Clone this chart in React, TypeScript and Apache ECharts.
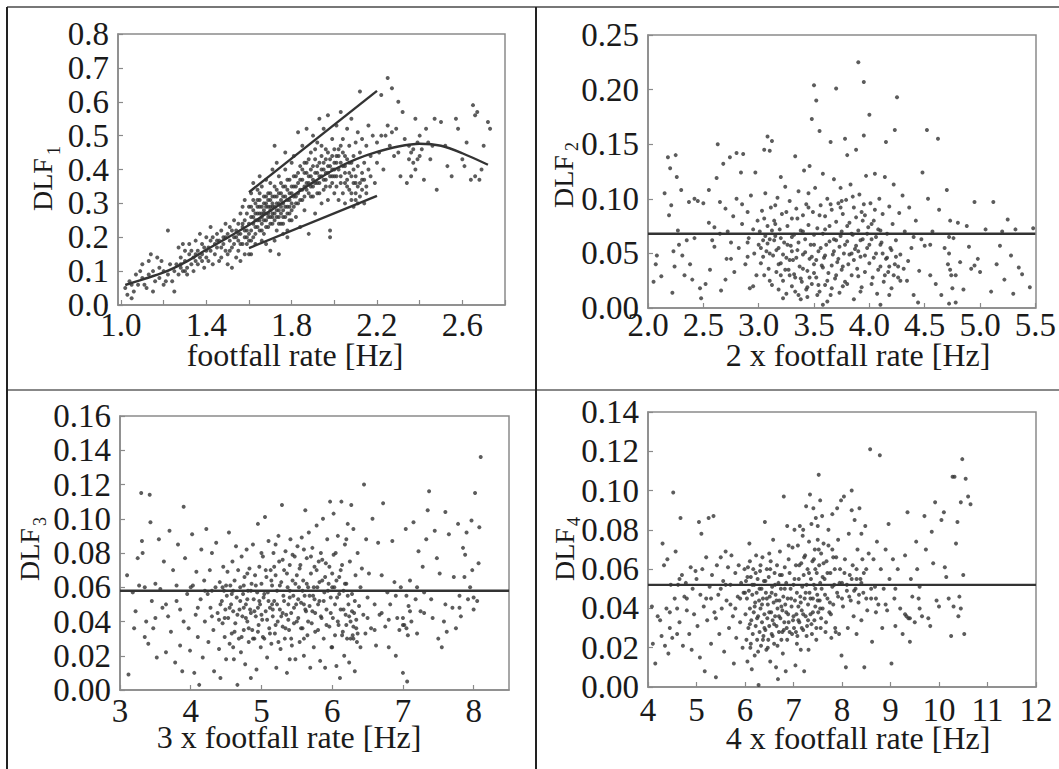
import React, { useEffect, useRef } from "react";
import * as echarts from "echarts";

const SERIF = '"Liberation Serif", "Times New Roman", serif';
const INK = "#1a1a1a";
const DOT = "#333333";

// ---------- Panel 1: DLF1 vs footfall rate ----------
const P1_X_TICKS = [1.0, 1.2, 1.4, 1.6, 1.8, 2.0, 2.2, 2.4, 2.6, 2.8];
const P1_X_LABELS = [1.0, 1.4, 1.8, 2.2, 2.6];
const P1_POINTS: [number, number][] = [
  [1.02,0.05],[1.03,0.03],[1.04,0.07],[1.05,0.02],[1.05,0.06],[1.06,0.04],[1.07,0.09],[1.08,0.06],[1.09,0.10],[1.10,0.08],[1.10,0.12],[1.11,0.06],[1.12,0.05],[1.13,0.09],[1.13,0.13],[1.14,0.15],[1.15,0.10],[1.15,0.04],[1.16,0.07],[1.17,0.14],[1.18,0.11],[1.18,0.08],[1.19,0.13],[1.20,0.10],[1.20,0.06],
  [1.21,0.07],[1.22,0.22],[1.22,0.09],[1.23,0.12],[1.24,0.07],[1.25,0.04],[1.25,0.10],[1.26,0.12],[1.27,0.17],[1.27,0.09],[1.28,0.14],[1.28,0.11],[1.29,0.10],[1.29,0.18],[1.30,0.13],[1.30,0.16],[1.31,0.11],[1.31,0.09],[1.32,0.15],[1.32,0.18],[1.33,0.12],[1.34,0.14],[1.34,0.10],[1.35,0.19],[1.35,0.13],[1.36,0.16],[1.36,0.12],[1.37,0.21],[1.37,0.14],[1.38,0.15],[1.38,0.18],[1.39,0.11],[1.39,0.17],[1.40,0.14],[1.40,0.20],
  [1.41,0.13],[1.41,0.17],[1.42,0.23],[1.42,0.16],[1.43,0.20],[1.43,0.12],[1.44,0.18],[1.44,0.15],[1.45,0.17],[1.45,0.21],[1.46,0.19],[1.46,0.13],[1.47,0.14],[1.47,0.22],[1.48,0.18],[1.48,0.20],[1.49,0.16],[1.49,0.24],[1.50,0.15],[1.50,0.21],[1.50,0.12],[1.51,0.19],[1.51,0.23],[1.52,0.11],[1.52,0.17],[1.53,0.20],[1.53,0.25],[1.54,0.22],[1.54,0.14],[1.55,0.16],[1.55,0.19],[1.55,0.24],[1.56,0.21],[1.56,0.13],[1.57,0.23],[1.57,0.18],[1.58,0.25],[1.58,0.20],[1.58,0.15],[1.59,0.22],[1.59,0.27],[1.60,0.24],[1.60,0.19],[1.60,0.29],[1.60,0.15],
  [1.61,0.26],[1.61,0.22],[1.61,0.33],[1.62,0.28],[1.62,0.24],[1.62,0.20],[1.63,0.27],[1.63,0.30],[1.63,0.23],[1.64,0.25],[1.64,0.29],[1.64,0.34],[1.65,0.27],[1.65,0.22],[1.65,0.31],[1.66,0.26],[1.66,0.29],[1.66,0.24],[1.66,0.35],[1.67,0.28],[1.67,0.21],[1.67,0.32],[1.68,0.27],[1.68,0.30],[1.68,0.25],[1.69,0.29],[1.69,0.23],[1.69,0.33],[1.70,0.26],[1.70,0.31],[1.70,0.28],[1.70,0.36],[1.71,0.30],[1.71,0.24],[1.71,0.27],[1.72,0.29],[1.72,0.32],[1.72,0.47],[1.73,0.26],[1.73,0.30],[1.73,0.22],[1.74,0.28],[1.74,0.33],[1.74,0.38],[1.75,0.27],[1.75,0.31],[1.75,0.24],[1.76,0.30],[1.76,0.35],[1.76,0.28],[1.77,0.26],[1.77,0.32],[1.77,0.40],[1.78,0.29],[1.78,0.34],[1.78,0.22],[1.79,0.31],[1.79,0.27],[1.79,0.37],[1.80,0.30],[1.80,0.33],[1.80,0.25],[1.80,0.42],
  [1.61,0.15],[1.63,0.18],[1.66,0.19],[1.68,0.18],[1.70,0.16],[1.72,0.19],[1.74,0.15],[1.76,0.21],[1.78,0.20],[1.62,0.36],[1.65,0.38],[1.68,0.37],[1.71,0.40],[1.73,0.42],[1.77,0.45],
  [1.81,0.35],[1.81,0.29],[1.81,0.44],[1.82,0.32],[1.82,0.38],[1.82,0.26],[1.83,0.36],[1.83,0.51],[1.83,0.30],[1.84,0.34],[1.84,0.41],[1.84,0.23],[1.85,0.37],[1.85,0.31],[1.85,0.47],[1.86,0.35],[1.86,0.39],[1.86,0.28],[1.87,0.52],[1.87,0.36],[1.87,0.42],[1.88,0.33],[1.88,0.38],[1.88,0.21],[1.89,0.40],[1.89,0.35],[1.89,0.45],[1.90,0.37],[1.90,0.32],[1.90,0.50],[1.91,0.39],[1.91,0.43],[1.91,0.27],[1.92,0.36],[1.92,0.41],[1.92,0.48],[1.93,0.38],[1.93,0.33],[1.93,0.55],[1.94,0.40],[1.94,0.44],[1.94,0.30],[1.95,0.37],[1.95,0.42],[1.95,0.52],[1.96,0.39],[1.96,0.35],[1.96,0.46],[1.97,0.41],[1.97,0.31],[1.97,0.56],[1.98,0.38],[1.98,0.43],[1.98,0.20],[1.98,0.22],[1.99,0.40],[1.99,0.36],[1.99,0.49],[2.00,0.42],[2.00,0.33],[2.00,0.38],
  [2.01,0.44],[2.01,0.35],[2.01,0.53],[2.02,0.40],[2.02,0.31],[2.02,0.46],[2.03,0.38],[2.03,0.42],[2.03,0.57],[2.04,0.33],[2.04,0.45],[2.04,0.49],[2.05,0.36],[2.05,0.41],[2.05,0.30],[2.06,0.43],[2.06,0.37],[2.06,0.52],[2.07,0.39],[2.07,0.34],[2.07,0.47],[2.08,0.31],[2.08,0.42],[2.08,0.55],[2.09,0.36],[2.09,0.44],[2.09,0.29],[2.10,0.38],[2.10,0.48],[2.10,0.33],[2.11,0.41],[2.11,0.30],[2.11,0.51],[2.12,0.36],[2.12,0.45],[2.12,0.63],[2.13,0.39],[2.13,0.34],[2.13,0.49],[2.14,0.42],[2.14,0.37],[2.15,0.47],[2.15,0.35],[2.16,0.40],[2.16,0.53],[2.17,0.38],[2.17,0.44],[2.18,0.50],[2.19,0.36],[2.20,0.48],[2.20,0.42],
  [2.21,0.45],[2.22,0.62],[2.22,0.50],[2.23,0.40],[2.24,0.50],[2.25,0.67],[2.25,0.53],[2.26,0.47],[2.27,0.64],[2.27,0.51],[2.28,0.44],[2.29,0.52],[2.30,0.60],[2.30,0.45],[2.31,0.38],[2.32,0.57],[2.33,0.49],[2.34,0.36],[2.35,0.43],[2.35,0.47],[2.36,0.38],[2.36,0.45],[2.37,0.46],[2.37,0.42],[2.38,0.55],[2.38,0.40],[2.39,0.43],[2.39,0.48],[2.40,0.50],[2.40,0.44],[2.41,0.46],[2.42,0.37],[2.43,0.52],[2.44,0.48],[2.45,0.43],[2.46,0.47],[2.47,0.55],[2.48,0.34],[2.50,0.54],[2.52,0.47],[2.53,0.41],[2.55,0.38],[2.57,0.55],[2.58,0.52],[2.60,0.43],[2.61,0.41],[2.62,0.48],[2.64,0.37],[2.65,0.59],[2.66,0.56],[2.66,0.38],[2.67,0.57],[2.68,0.37],[2.69,0.40],[2.70,0.47],[2.72,0.54],[2.73,0.52],
];
const P1_POINTS_B: [number, number][] = [
  [1.56,0.27],[1.57,0.29],[1.58,0.31],[1.59,0.18],[1.60,0.21],[1.61,0.29],[1.61,0.19],[1.62,0.31],[1.62,0.26],[1.63,0.25],[1.63,0.21],[1.64,0.27],[1.64,0.23],[1.64,0.31],[1.65,0.25],[1.65,0.29],[1.65,0.33],[1.66,0.27],[1.66,0.22],[1.67,0.25],[1.67,0.30],[1.67,0.27],[1.68,0.23],[1.68,0.29],[1.68,0.32],[1.69,0.26],[1.69,0.31],[1.69,0.27],[1.70,0.24],[1.70,0.29],[1.70,0.33],[1.71,0.26],[1.71,0.32],[1.71,0.29],[1.72,0.25],[1.72,0.27],[1.72,0.35],[1.73,0.28],[1.73,0.32],[1.73,0.34],[1.74,0.26],[1.74,0.30],[1.74,0.24],[1.75,0.29],[1.75,0.33],[1.75,0.36],[1.76,0.26],[1.76,0.32],[1.76,0.24],[1.77,0.29],[1.77,0.35],[1.78,0.27],[1.78,0.31],[1.78,0.37],[1.79,0.29],[1.79,0.33],[1.79,0.25],[1.80,0.28],[1.80,0.35],
  [1.81,0.32],[1.81,0.38],[1.82,0.30],[1.82,0.35],[1.83,0.33],[1.83,0.39],[1.84,0.31],[1.84,0.37],[1.85,0.34],[1.85,0.40],[1.86,0.32],[1.86,0.42],[1.87,0.34],[1.87,0.39],[1.88,0.36],[1.88,0.43],[1.89,0.38],[1.89,0.32],[1.90,0.35],[1.90,0.41],[1.91,0.36],[1.91,0.46],[1.92,0.39],[1.92,0.33],[1.93,0.42],[1.93,0.36],[1.94,0.38],[1.94,0.47],[1.95,0.40],[1.95,0.34],[1.96,0.43],[1.96,0.37],[1.97,0.39],[1.97,0.45],[1.98,0.41],[1.98,0.35],[1.99,0.44],[1.99,0.38],[2.00,0.40],[2.00,0.46],
  [2.01,0.42],[2.01,0.38],[2.02,0.44],[2.03,0.36],[2.03,0.47],[2.04,0.41],[2.05,0.39],[2.05,0.44],[2.06,0.35],[2.07,0.42],[2.08,0.38],[2.08,0.33],[2.09,0.40],[2.10,0.36],[2.10,0.31],[2.11,0.35],[2.12,0.32],[2.13,0.37],[2.14,0.30],[2.15,0.33],
  [1.45,0.19],[1.47,0.17],[1.49,0.20],[1.51,0.16],[1.52,0.22],[1.53,0.18],[1.54,0.20],[1.55,0.21],[1.56,0.18],[1.57,0.24],[1.58,0.22],[1.59,0.20],[1.35,0.15],[1.38,0.13],[1.40,0.16],[1.42,0.19],[1.33,0.16],[1.30,0.10],[1.28,0.12],
];
const P1_CURVE: [number, number][] = [
  [1.02,0.059],[1.1,0.075],[1.2,0.096],[1.3,0.126],[1.4,0.163],[1.5,0.199],[1.6,0.236],[1.7,0.278],[1.8,0.320],[1.9,0.362],[2.0,0.400],[2.1,0.430],[2.2,0.452],[2.3,0.468],[2.4,0.476],[2.5,0.470],[2.6,0.448],[2.72,0.414],
];
const P1_UPPER: [number, number][] = [[1.6,0.333],[2.2,0.632]];
const P1_LOWER: [number, number][] = [[1.6,0.168],[2.2,0.322]];

// ---------- Panel 2: DLF2 vs 2 x footfall rate ----------
const P2_MEAN = 0.068;
const P2_POINTS: [number, number][] = [
  [2.05,0.024],[2.07,0.040],[2.08,0.048],[2.12,0.029],[2.15,0.105],[2.18,0.138],[2.19,0.085],[2.2,0.128],[2.21,0.094],[2.22,0.014],[2.23,0.052],[2.24,0.038],[2.25,0.140],[2.26,0.120],[2.27,0.071],[2.28,0.058],[2.3,0.108],[2.31,0.048],[2.33,0.030],[2.35,0.062],[2.37,0.097],[2.38,0.040],[2.4,0.026],[2.42,0.064],[2.45,0.098],[2.47,0.018],[2.48,0.009],[2.5,0.096],[2.42,0.100],
  [2.52,0.022],[2.55,0.108],[2.56,0.035],[2.58,0.062],[2.6,0.074],[2.62,0.119],[2.63,0.150],[2.65,0.097],[2.66,0.016],[2.68,0.132],[2.7,0.091],[2.71,0.045],[2.72,0.070],[2.74,0.138],[2.75,0.060],[2.77,0.084],[2.78,0.033],[2.8,0.142],[2.8,0.100],[2.82,0.055],[2.84,0.124],[2.85,0.077],[2.86,0.141],[2.88,0.040],[2.9,0.088],[2.91,0.064],[2.92,0.018],[2.93,0.103],[2.95,0.072],[2.96,0.050],[2.97,0.124],[2.98,0.030],[2.99,0.080],[2.6,0.056],[2.7,0.026],[2.85,0.095],[2.9,0.047],[2.95,0.020],
  [3.0,0.058],[3.01,0.070],[3.02,0.041],[3.03,0.089],[3.04,0.062],[3.05,0.145],[3.05,0.030],[3.06,0.105],[3.07,0.052],[3.08,0.157],[3.08,0.075],[3.09,0.036],[3.1,0.063],[3.1,0.144],[3.11,0.092],[3.12,0.021],[3.12,0.153],[3.13,0.048],[3.14,0.080],[3.15,0.066],[3.16,0.033],[3.17,0.101],[3.18,0.055],[3.18,0.017],[3.19,0.072],[3.2,0.041],[3.2,0.120],[3.21,0.086],[3.22,0.025],[3.23,0.060],[3.24,0.111],[3.25,0.046],[3.25,0.013],[3.26,0.075],[3.27,0.035],[3.28,0.098],[3.29,0.057],[3.3,0.020],[3.3,0.082],[3.31,0.044],[3.32,0.067],[3.33,0.139],[3.33,0.028],[3.34,0.091],[3.35,0.053],[3.36,0.012],[3.36,0.107],[3.37,0.038],[3.38,0.071],[3.39,0.024],[3.4,0.085],[3.4,0.049],[3.41,0.126],[3.42,0.063],[3.43,0.017],[3.43,0.095],[3.44,0.034],[3.45,0.076],[3.46,0.130],[3.46,0.045],[3.47,0.058],[3.48,0.173],[3.48,0.022],[3.49,0.088],[3.5,0.204],[3.5,0.040],[3.5,0.067],[3.15,0.094],[3.22,0.009],[3.28,0.030],[3.38,0.008],[3.45,0.105],
  [3.51,0.110],[3.52,0.190],[3.52,0.028],[3.53,0.073],[3.54,0.052],[3.55,0.162],[3.55,0.015],[3.56,0.094],[3.57,0.039],[3.58,0.068],[3.58,0.123],[3.59,0.046],[3.6,0.084],[3.6,0.021],[3.61,0.058],[3.62,0.100],[3.63,0.032],[3.64,0.075],[3.65,0.152],[3.65,0.012],[3.66,0.090],[3.67,0.049],[3.68,0.118],[3.68,0.063],[3.69,0.027],[3.7,0.201],[3.7,0.079],[3.71,0.042],[3.72,0.096],[3.73,0.056],[3.73,0.014],[3.74,0.110],[3.75,0.070],[3.75,0.035],[3.76,0.086],[3.77,0.050],[3.78,0.155],[3.78,0.024],[3.79,0.099],[3.8,0.061],[3.8,0.140],[3.81,0.040],[3.82,0.078],[3.83,0.113],[3.84,0.030],[3.85,0.067],[3.86,0.092],[3.86,0.008],[3.87,0.054],[3.88,0.145],[3.88,0.083],[3.89,0.036],[3.9,0.225],[3.9,0.071],[3.91,0.104],[3.92,0.047],[3.93,0.088],[3.93,0.019],[3.94,0.063],[3.95,0.207],[3.95,0.158],[3.96,0.033],[3.96,0.085],[3.97,0.121],[3.98,0.055],[3.99,0.074],[4.0,0.177],[4.0,0.041],[3.62,0.006],[3.58,0.003],[3.74,0.092],[3.84,0.050],
  [4.01,0.096],[4.02,0.063],[4.03,0.028],[4.04,0.080],[4.05,0.123],[4.06,0.050],[4.07,0.013],[4.08,0.072],[4.09,0.100],[4.1,0.038],[4.11,0.060],[4.12,0.086],[4.13,0.024],[4.14,0.120],[4.15,0.152],[4.15,0.045],[4.16,0.068],[4.17,0.033],[4.18,0.093],[4.19,0.055],[4.2,0.018],[4.21,0.077],[4.22,0.113],[4.23,0.163],[4.23,0.040],[4.24,0.062],[4.25,0.193],[4.26,0.028],[4.27,0.087],[4.28,0.049],[4.3,0.103],[4.31,0.036],[4.32,0.070],[4.34,0.025],[4.36,0.092],[4.38,0.055],[4.4,0.012],[4.42,0.080],[4.44,0.005],[4.45,0.034],[4.47,0.063],[4.48,0.124],[4.5,0.057],[4.1,0.003],[4.35,0.043],
  [4.52,0.163],[4.53,0.100],[4.55,0.030],[4.57,0.070],[4.6,0.022],[4.62,0.155],[4.63,0.090],[4.65,0.012],[4.68,0.055],[4.7,0.108],[4.71,0.040],[4.72,0.004],[4.73,0.080],[4.74,0.030],[4.76,0.064],[4.78,0.005],[4.8,0.078],[4.82,0.042],[4.85,0.017],[4.88,0.075],[4.9,0.056],[4.92,0.036],[4.95,0.097],[4.98,0.045],[5.0,0.033],[5.05,0.072],[5.1,0.015],[5.12,0.097],[5.15,0.040],[5.18,0.057],[5.2,0.070],[5.22,0.026],[5.25,0.081],[5.28,0.048],[5.3,0.013],[5.32,0.072],[5.35,0.037],[5.38,0.031],[5.45,0.019],[5.48,0.073],[4.75,0.018],[4.95,0.039],
];
const P2_POINTS_B: [number, number][] = [
  [3.02,0.055],[3.04,0.047],[3.06,0.066],[3.08,0.059],[3.1,0.050],[3.12,0.071],[3.14,0.062],[3.16,0.053],[3.18,0.040],[3.2,0.064],[3.22,0.049],[3.24,0.035],[3.26,0.058],[3.28,0.044],[3.3,0.052],[3.32,0.031],[3.34,0.046],[3.36,0.060],[3.38,0.027],[3.4,0.036],[3.42,0.051],[3.44,0.019],[3.46,0.028],[3.48,0.047],[3.5,0.032],[3.52,0.044],[3.54,0.021],[3.56,0.055],[3.58,0.037],[3.6,0.048],[3.62,0.025],[3.64,0.061],[3.66,0.039],[3.68,0.052],[3.7,0.030],[3.72,0.045],[3.74,0.066],[3.76,0.038],[3.78,0.058],[3.8,0.022],[3.82,0.049],[3.84,0.068],[3.86,0.044],[3.88,0.057],[3.9,0.029],[3.92,0.062],[3.94,0.080],[3.96,0.048],[3.98,0.068],[4.0,0.058],[4.02,0.077],[4.04,0.046],[4.06,0.065],[4.08,0.035],[4.1,0.071],[4.12,0.050],[4.14,0.030],[4.16,0.046],[4.18,0.038],[4.2,0.053],[4.22,0.030],[4.24,0.047],[4.26,0.038],[4.28,0.025],
  [3.35,0.082],[3.45,0.092],[3.55,0.085],[3.65,0.095],[3.75,0.098],[3.85,0.102],[3.95,0.095],[4.05,0.090],[3.25,0.088],[3.15,0.077],[3.05,0.082],[3.4,0.070],[3.6,0.072],[3.8,0.075],[3.3,0.065],[3.5,0.058],[3.7,0.062],[3.9,0.052],[4.1,0.058],[3.33,0.015],[3.44,0.010],[3.53,0.012],[3.66,0.018],[3.76,0.020],[3.92,0.015],[4.02,0.022],[4.18,0.012],[3.2,0.030],[3.1,0.025],[2.9,0.060],[2.75,0.045],[2.65,0.068],[2.55,0.078],[4.4,0.065],[4.55,0.058],[4.72,0.050],[4.72,0.065],[4.73,0.035],[4.78,0.030],
];

// ---------- Panel 3: DLF3 vs 3 x footfall rate ----------
const P3_MEAN = 0.058;
const P3_POINTS: [number, number][] = [
  [3.1,0.067],[3.12,0.009],[3.18,0.057],[3.2,0.036],[3.22,0.046],[3.25,0.077],[3.27,0.061],[3.3,0.115],[3.31,0.087],[3.32,0.080],[3.35,0.031],[3.37,0.040],[3.4,0.027],[3.42,0.114],[3.43,0.098],[3.45,0.052],[3.47,0.036],[3.5,0.062],[3.52,0.019],[3.55,0.088],[3.57,0.059],[3.6,0.048],[3.62,0.075],[3.65,0.022],[3.68,0.043],[3.7,0.093],[3.72,0.034],[3.75,0.070],[3.78,0.016],[3.8,0.061],[3.82,0.085],[3.85,0.047],[3.88,0.011],[3.9,0.107],[3.92,0.077],[3.95,0.056],[3.97,0.036],[3.99,0.023],[3.35,0.060],[3.5,0.042],[3.65,0.050],[3.85,0.026],
  [4.02,0.091],[4.03,0.061],[4.05,0.010],[4.07,0.044],[4.08,0.069],[4.1,0.031],[4.12,0.003],[4.14,0.053],[4.15,0.082],[4.17,0.019],[4.19,0.064],[4.2,0.040],[4.22,0.094],[4.24,0.056],[4.25,0.028],[4.27,0.070],[4.28,0.048],[4.3,0.080],[4.32,0.035],[4.33,0.011],[4.35,0.060],[4.36,0.086],[4.38,0.045],[4.4,0.024],[4.41,0.063],[4.42,0.007],[4.44,0.052],[4.45,0.039],[4.46,0.072],[4.47,0.058],[4.48,0.031],[4.49,0.047],[4.5,0.061],[4.5,0.018],[4.3,0.058],[4.4,0.041],[4.45,0.060],
  [4.51,0.055],[4.52,0.069],[4.53,0.042],[4.54,0.092],[4.55,0.027],[4.56,0.061],[4.57,0.050],[4.58,0.033],[4.59,0.075],[4.6,0.046],[4.61,0.018],[4.62,0.064],[4.63,0.039],[4.64,0.084],[4.65,0.054],[4.66,0.003],[4.67,0.070],[4.68,0.030],[4.69,0.047],[4.7,0.060],[4.71,0.022],[4.72,0.078],[4.73,0.043],[4.74,0.056],[4.75,0.035],[4.76,0.066],[4.77,0.015],[4.78,0.050],[4.79,0.082],[4.8,0.040],[4.81,0.058],[4.82,0.028],[4.83,0.071],[4.84,0.047],[4.85,0.007],[4.86,0.062],[4.87,0.035],[4.88,0.085],[4.89,0.053],[4.9,0.030],[4.91,0.067],[4.92,0.043],[4.93,0.012],[4.94,0.057],[4.95,0.097],[4.96,0.038],[4.97,0.072],[4.98,0.050],[4.99,0.025],[5.0,0.062],[4.6,0.058],[4.75,0.048],[4.85,0.045],[4.95,0.048],
  [5.01,0.041],[5.02,0.078],[5.03,0.054],[5.04,0.030],[5.05,0.101],[5.06,0.046],[5.07,0.066],[5.08,0.019],[5.09,0.057],[5.1,0.087],[5.11,0.036],[5.12,0.048],[5.13,0.070],[5.14,0.027],[5.15,0.061],[5.16,0.043],[5.17,0.080],[5.18,0.052],[5.19,0.033],[5.2,0.067],[5.21,0.013],[5.22,0.058],[5.23,0.040],[5.24,0.090],[5.25,0.075],[5.26,0.047],[5.27,0.024],[5.28,0.063],[5.29,0.108],[5.3,0.037],[5.31,0.055],[5.32,0.070],[5.33,0.030],[5.34,0.081],[5.35,0.044],[5.36,0.010],[5.37,0.060],[5.38,0.050],[5.39,0.035],[5.4,0.073],[5.41,0.088],[5.42,0.045],[5.43,0.026],[5.44,0.064],[5.45,0.055],[5.46,0.039],[5.47,0.078],[5.48,0.018],[5.49,0.050],[5.5,0.067],[5.15,0.050],[5.3,0.045],[5.4,0.058],
  [5.51,0.084],[5.52,0.042],[5.53,0.060],[5.54,0.028],[5.55,0.073],[5.56,0.051],[5.57,0.089],[5.58,0.036],[5.59,0.064],[5.6,0.020],[5.61,0.055],[5.62,0.105],[5.63,0.046],[5.64,0.077],[5.65,0.032],[5.66,0.060],[5.67,0.092],[5.68,0.049],[5.69,0.013],[5.7,0.068],[5.71,0.039],[5.72,0.083],[5.73,0.055],[5.74,0.025],[5.75,0.072],[5.76,0.045],[5.78,0.096],[5.79,0.060],[5.8,0.035],[5.81,0.075],[5.82,0.052],[5.83,0.017],[5.84,0.080],[5.85,0.042],[5.86,0.064],[5.87,0.100],[5.88,0.030],[5.89,0.057],[5.9,0.013],[5.91,0.074],[5.92,0.047],[5.93,0.088],[5.95,0.062],[5.96,0.037],[5.97,0.110],[5.98,0.054],[5.99,0.025],[6.0,0.068],[5.6,0.050],[5.75,0.053],
  [6.01,0.042],[6.02,0.103],[6.03,0.060],[6.04,0.032],[6.05,0.080],[6.06,0.014],[6.07,0.054],[6.08,0.090],[6.09,0.038],[6.1,0.066],[6.11,0.007],[6.12,0.047],[6.13,0.110],[6.14,0.073],[6.15,0.034],[6.16,0.058],[6.17,0.020],[6.18,0.085],[6.19,0.044],[6.2,0.062],[6.21,0.030],[6.22,0.097],[6.23,0.050],[6.24,0.016],[6.25,0.075],[6.26,0.040],[6.27,0.108],[6.28,0.056],[6.29,0.032],[6.3,0.094],[6.31,0.045],[6.32,0.011],[6.33,0.067],[6.34,0.036],[6.36,0.080],[6.38,0.049],[6.4,0.025],[6.42,0.071],[6.44,0.044],[6.45,0.120],[6.47,0.033],[6.48,0.088],[6.5,0.054],[6.3,0.030],[6.35,0.028],
  [6.52,0.068],[6.55,0.036],[6.57,0.100],[6.6,0.050],[6.62,0.026],[6.65,0.086],[6.67,0.044],[6.7,0.067],[6.72,0.109],[6.75,0.037],[6.78,0.057],[6.8,0.025],[6.82,0.050],[6.85,0.087],[6.88,0.063],[6.9,0.020],[6.92,0.042],[6.95,0.035],[6.97,0.060],[7.0,0.010],[7.02,0.038],[7.04,0.094],[7.05,0.055],[7.06,0.005],[7.07,0.032],[7.08,0.049],[7.1,0.064],[7.12,0.040],[7.15,0.098],[7.18,0.053],[7.2,0.033],[7.22,0.081],[7.25,0.046],[7.28,0.072],[7.3,0.057],[7.33,0.088],[7.35,0.105],[7.37,0.116],[7.4,0.053],[7.42,0.042],[7.45,0.093],[7.48,0.077],[7.0,0.042],[7.05,0.036],
  [7.5,0.030],[7.52,0.068],[7.55,0.025],[7.58,0.040],[7.6,0.104],[7.62,0.034],[7.65,0.091],[7.7,0.048],[7.72,0.066],[7.75,0.036],[7.78,0.097],[7.8,0.055],[7.82,0.043],[7.85,0.083],[7.87,0.066],[7.9,0.092],[7.92,0.053],[7.95,0.060],[7.97,0.099],[8.0,0.047],[8.02,0.115],[8.05,0.052],[8.07,0.074],[8.08,0.095],[8.1,0.136],[7.88,0.079],[7.98,0.070],
];
const P3_POINTS_B: [number, number][] = [
  [4.42,0.050],[4.48,0.042],[4.55,0.048],[4.58,0.056],[4.62,0.034],[4.66,0.044],[4.7,0.052],[4.72,0.031],[4.75,0.061],[4.78,0.042],[4.8,0.053],[4.82,0.036],[4.85,0.058],[4.88,0.030],[4.9,0.046],[4.92,0.061],[4.95,0.034],[4.97,0.052],[5.0,0.044],[5.02,0.031],[5.04,0.056],[5.06,0.070],[5.08,0.041],[5.1,0.052],[5.12,0.033],[5.14,0.064],[5.16,0.047],[5.18,0.072],[5.2,0.038],[5.22,0.050],[5.24,0.028],[5.26,0.061],[5.28,0.043],[5.3,0.076],[5.32,0.052],[5.34,0.036],[5.36,0.068],[5.38,0.041],[5.4,0.054],[5.42,0.030],[5.44,0.079],[5.46,0.048],[5.48,0.062],[5.5,0.040],[5.52,0.053],[5.54,0.071],[5.56,0.036],[5.58,0.058],[5.6,0.082],[5.62,0.047],[5.64,0.062],[5.66,0.040],[5.68,0.055],[5.7,0.078],[5.72,0.046],[5.74,0.060],[5.76,0.034],[5.78,0.070],[5.8,0.050],[5.82,0.063],[5.84,0.043],[5.86,0.076],[5.88,0.052],[5.9,0.066],[5.92,0.038],[5.94,0.058],[5.96,0.072],[5.98,0.045],[6.0,0.060],[6.02,0.079],[6.04,0.050],[6.06,0.064],[6.08,0.040],[6.1,0.056],[6.12,0.070],[6.14,0.032],[6.16,0.047],[6.18,0.062],[6.2,0.038],[6.22,0.055],[6.24,0.043],[6.26,0.030],[6.28,0.046],[6.3,0.037],[6.32,0.052],[6.34,0.041],[6.36,0.033],
  [4.2,0.058],[4.1,0.048],[4.0,0.060],[3.9,0.040],[3.8,0.052],[6.5,0.042],[6.6,0.035],[6.7,0.045],[6.8,0.041],[6.9,0.055],[7.0,0.038],[7.1,0.046],[7.2,0.060],[7.3,0.045],[7.6,0.050],[7.8,0.048],[8.0,0.054],[4.3,0.043],[4.6,0.025],[4.8,0.068],[5.0,0.080],[5.2,0.085],[5.4,0.018],[5.6,0.030],[6.0,0.025],[6.2,0.088],[6.4,0.060],
];

// ---------- Panel 4: DLF4 vs 4 x footfall rate ----------
const P4_MEAN = 0.052;
const P4_POINTS: [number, number][] = [
  [4.08,0.041],[4.1,0.022],[4.15,0.012],[4.2,0.036],[4.25,0.034],[4.28,0.026],[4.3,0.073],[4.33,0.062],[4.35,0.021],[4.38,0.040],[4.4,0.065],[4.42,0.017],[4.45,0.030],[4.47,0.052],[4.5,0.025],[4.52,0.099],[4.55,0.045],[4.57,0.069],[4.6,0.027],[4.62,0.052],[4.65,0.033],[4.67,0.086],[4.7,0.057],[4.72,0.021],[4.75,0.046],[4.78,0.053],[4.8,0.039],[4.85,0.027],[4.88,0.061],[4.9,0.019],[4.92,0.050],[4.95,0.037],[4.98,0.059],[4.45,0.038],[4.65,0.055],
  [5.0,0.055],[5.02,0.031],[5.05,0.084],[5.07,0.015],[5.08,0.047],[5.1,0.078],[5.12,0.060],[5.15,0.041],[5.17,0.008],[5.2,0.066],[5.22,0.034],[5.25,0.086],[5.27,0.051],[5.3,0.022],[5.32,0.057],[5.35,0.087],[5.37,0.038],[5.4,0.005],[5.42,0.062],[5.45,0.047],[5.47,0.027],[5.5,0.066],[5.52,0.040],[5.55,0.054],[5.57,0.018],[5.6,0.069],[5.62,0.044],[5.65,0.061],[5.67,0.030],[5.7,0.052],[5.72,0.067],[5.75,0.036],[5.77,0.012],[5.8,0.058],[5.82,0.025],[5.85,0.046],[5.87,0.062],[5.9,0.033],[5.92,0.053],[5.95,0.020],[5.97,0.048],[5.99,0.060],[5.3,0.045],[5.5,0.050],[5.7,0.042],[5.9,0.045],
  [6.01,0.037],[6.02,0.054],[6.03,0.024],[6.04,0.045],[6.05,0.013],[6.06,0.061],[6.07,0.030],[6.08,0.049],[6.09,0.073],[6.1,0.040],[6.11,0.020],[6.12,0.056],[6.13,0.034],[6.14,0.009],[6.15,0.047],[6.16,0.027],[6.17,0.060],[6.18,0.038],[6.19,0.052],[6.2,0.016],[6.21,0.043],[6.22,0.031],[6.23,0.067],[6.24,0.048],[6.25,0.024],[6.26,0.055],[6.27,0.036],[6.28,0.001],[6.29,0.044],[6.3,0.028],[6.31,0.059],[6.32,0.040],[6.33,0.021],[6.34,0.050],[6.35,0.033],[6.36,0.066],[6.37,0.045],[6.38,0.026],[6.39,0.054],[6.4,0.037],[6.41,0.084],[6.42,0.029],[6.43,0.048],[6.44,0.019],[6.45,0.060],[6.46,0.035],[6.47,0.042],[6.48,0.024],[6.49,0.056],[6.5,0.031],[6.51,0.046],[6.52,0.013],[6.53,0.064],[6.54,0.038],[6.55,0.027],[6.56,0.051],[6.57,0.034],[6.58,0.075],[6.59,0.043],[6.6,0.022],[6.61,0.058],[6.62,0.036],[6.63,0.047],[6.64,0.010],[6.65,0.031],[6.66,0.062],[6.67,0.040],[6.68,0.004],[6.69,0.053],[6.7,0.028],[6.71,0.044],[6.72,0.069],[6.73,0.035],[6.74,0.050],[6.75,0.024],[6.76,0.057],[6.77,0.039],[6.78,0.017],[6.79,0.046],[6.8,0.097],[6.81,0.033],[6.82,0.061],[6.83,0.042],[6.84,0.008],[6.85,0.053],[6.86,0.030],[6.87,0.082],[6.88,0.045],[6.89,0.037],[6.9,0.065],[6.92,0.028],[6.94,0.050],[6.96,0.041],[6.98,0.071],[6.99,0.034],
  [7.0,0.052],[7.01,0.030],[7.02,0.080],[7.03,0.044],[7.04,0.011],[7.05,0.062],[7.06,0.037],[7.07,0.048],[7.08,0.026],[7.09,0.072],[7.1,0.041],[7.11,0.055],[7.12,0.033],[7.13,0.082],[7.14,0.046],[7.15,0.019],[7.16,0.063],[7.17,0.039],[7.18,0.051],[7.19,0.077],[7.2,0.029],[7.21,0.057],[7.22,0.008],[7.23,0.045],[7.24,0.067],[7.25,0.036],[7.26,0.092],[7.27,0.052],[7.28,0.031],[7.29,0.060],[7.3,0.042],[7.31,0.019],[7.32,0.074],[7.33,0.048],[7.34,0.098],[7.35,0.037],[7.36,0.055],[7.37,0.083],[7.38,0.027],[7.39,0.064],[7.4,0.045],[7.41,0.091],[7.42,0.052],[7.43,0.034],[7.44,0.070],[7.45,0.041],[7.46,0.086],[7.47,0.024],[7.48,0.058],[7.49,0.047],[7.5,0.075],[7.51,0.038],[7.52,0.108],[7.53,0.062],[7.54,0.044],[7.55,0.095],[7.56,0.030],[7.57,0.068],[7.58,0.050],[7.59,0.087],[7.6,0.040],[7.62,0.073],[7.64,0.055],[7.66,0.028],[7.68,0.064],[7.7,0.045],[7.72,0.080],[7.74,0.038],[7.76,0.058],[7.78,0.025],[7.8,0.070],[7.82,0.042],[7.84,0.052],[7.86,0.030],[7.88,0.066],[7.9,0.091],[7.92,0.046],[7.94,0.027],[7.96,0.060],[7.98,0.095],[7.99,0.016],[7.45,0.050],[7.55,0.053],
  [8.0,0.053],[8.02,0.041],[8.04,0.097],[8.06,0.065],[8.08,0.010],[8.1,0.049],[8.12,0.030],[8.14,0.078],[8.16,0.057],[8.18,0.044],[8.2,0.100],[8.22,0.062],[8.24,0.036],[8.26,0.085],[8.28,0.050],[8.3,0.027],[8.32,0.070],[8.34,0.043],[8.36,0.091],[8.38,0.055],[8.4,0.034],[8.42,0.065],[8.44,0.048],[8.46,0.010],[8.48,0.082],[8.5,0.060],[8.52,0.039],[8.55,0.068],[8.58,0.121],[8.6,0.045],[8.62,0.023],[8.65,0.065],[8.68,0.051],[8.7,0.038],[8.72,0.074],[8.75,0.042],[8.78,0.118],[8.8,0.060],[8.83,0.030],[8.86,0.050],[8.9,0.070],[8.93,0.039],[8.96,0.083],[8.98,0.055],[8.5,0.045],[8.3,0.055],
  [9.02,0.012],[9.05,0.065],[9.08,0.045],[9.1,0.031],[9.15,0.060],[9.2,0.040],[9.25,0.027],[9.3,0.067],[9.33,0.036],[9.35,0.089],[9.37,0.035],[9.4,0.023],[9.42,0.055],[9.45,0.046],[9.5,0.033],[9.53,0.074],[9.55,0.060],[9.58,0.045],[9.6,0.051],[9.65,0.036],[9.7,0.087],[9.73,0.070],[9.78,0.035],[9.82,0.031],[9.85,0.079],[9.88,0.063],[9.92,0.094],[9.95,0.044],[10.0,0.041],[10.05,0.085],[10.1,0.089],[10.12,0.061],[10.15,0.056],[10.2,0.045],[10.25,0.026],[10.28,0.107],[10.3,0.041],[10.32,0.107],[10.35,0.073],[10.38,0.084],[10.4,0.036],[10.42,0.046],[10.45,0.094],[10.48,0.116],[10.5,0.057],[10.52,0.027],[10.55,0.106],[10.6,0.097],[10.65,0.093],[10.45,0.040],
];
const P4_POINTS_B: [number, number][] = [
  [6.0,0.048],[6.05,0.056],[6.1,0.032],[6.15,0.052],[6.2,0.041],[6.25,0.035],[6.3,0.050],[6.35,0.042],[6.4,0.030],[6.45,0.045],[6.5,0.038],[6.55,0.048],[6.6,0.032],[6.65,0.044],[6.7,0.036],[6.75,0.041],[6.8,0.029],[6.85,0.038],[6.9,0.033],[6.95,0.045],[7.0,0.036],[7.05,0.028],[7.1,0.034],[7.15,0.043],[7.2,0.037],[7.25,0.048],[7.3,0.034],[7.35,0.045],[7.4,0.038],[7.45,0.060],[7.5,0.044],[7.55,0.040],[7.6,0.056],[7.65,0.047],[7.7,0.058],[7.75,0.043],[7.8,0.051],[7.85,0.060],[7.9,0.048],[7.95,0.053],[8.0,0.045],[8.05,0.058],[8.1,0.052],[8.15,0.046],[8.2,0.055],[8.25,0.049],[8.3,0.060],[8.35,0.047],[8.4,0.053],[8.45,0.058],
  [6.22,0.058],[6.32,0.062],[6.42,0.054],[6.52,0.060],[6.62,0.052],[6.72,0.057],[6.82,0.050],[6.92,0.058],[7.02,0.055],[7.12,0.062],[7.22,0.066],[7.32,0.058],[7.42,0.065],[7.52,0.070],[7.62,0.063],[7.72,0.072],[7.82,0.066],[7.92,0.075],[6.12,0.022],[6.27,0.018],[6.37,0.024],[6.47,0.020],[6.57,0.026],[6.67,0.021],[6.77,0.028],[6.87,0.024],[6.97,0.027],[7.07,0.022],[7.17,0.030],[7.27,0.026],[7.37,0.032],[7.47,0.030],[7.57,0.035],[7.67,0.033],[7.77,0.037],[7.87,0.028],
  [5.6,0.052],[5.8,0.040],[5.4,0.035],[5.2,0.045],[4.8,0.045],[4.6,0.040],[8.6,0.050],[8.7,0.045],[8.9,0.042],[9.1,0.050],[9.3,0.037],[9.4,0.035],[9.6,0.040],[6.1,0.064],[6.5,0.068],[6.9,0.072],[7.2,0.080],[7.5,0.082],[7.8,0.088],[8.2,0.090],[8.4,0.078],
];

// ---------- axis ranges / titles ----------
const X_RANGES: [number, number][] = [[0.986, 2.8], [2.0, 5.5], [3.0, 8.5], [4.0, 12.0]];
const X_INTERVALS = [0.2, 0.5, 1, 1];
const Y_MAX = [0.8, 0.25, 0.16, 0.14];
const Y_INTERVALS = [0.1, 0.05, 0.02, 0.02];
const Y_DECIMALS = [1, 2, 2, 2];
const X_DECIMALS = [1, 1, 0, 0];
const X_TITLES = ["footfall rate [Hz]", "2 x footfall rate [Hz]", "3 x footfall rate [Hz]", "4 x footfall rate [Hz]"];
const Y_SUBS = ["1", "2", "3", "4"];

const GRIDS = [
  { left: 118, top: 34, width: 387, height: 271 },
  { left: 648, top: 35, width: 388, height: 273 },
  { left: 120, top: 416, width: 389, height: 274 },
  { left: 648, top: 412, width: 388, height: 275 },
];
const X_LABEL_MARGIN = [10, 7, 11, 13];
const X_TITLE_POS = [[295, 355], [858, 355], [289, 737], [858, 738]];
const Y_TITLE_POS = [[42, 211, 56, 12], [563, 208, 57, 9], [29, 581, 55, 11], [564, 581, 55, 10]];

export default function App() {
  const ref = useRef<HTMLDivElement>(null);
  useEffect(() => {
    if (!ref.current) return;
    const chart = echarts.init(ref.current, null, { renderer: "svg" });

    const xAxis = GRIDS.map((_, i) => {
      const base: any = {
        type: "value",
        gridIndex: i,
        min: X_RANGES[i][0],
        max: X_RANGES[i][1],
        axisLine: { show: true, lineStyle: { color: "#8a8a8a", width: 1.5 } },
        axisTick: { show: true, inside: true, length: 5, lineStyle: { color: "#8a8a8a", width: 1.2 } },
        splitLine: { show: false },
        axisLabel: {
          color: INK,
          fontFamily: SERIF,
          fontSize: 33,
          lineHeight: 20,
          margin: X_LABEL_MARGIN[i],
          showMaxLabel: i !== 2,
          formatter: (v: number) => v.toFixed(X_DECIMALS[i]),
        },
      };
      if (i === 0) {
        base.axisTick.customValues = P1_X_TICKS;
        base.axisLabel.customValues = P1_X_LABELS;
      } else {
        base.interval = X_INTERVALS[i];
      }
      return base;
    });

    const yAxis = GRIDS.map((_, i) => ({
      type: "value",
      gridIndex: i,
      min: 0,
      max: Y_MAX[i],
      interval: Y_INTERVALS[i],
      axisLine: { show: true, lineStyle: { color: "#8a8a8a", width: 1.5 } },
      axisTick: { show: true, inside: true, length: 5, lineStyle: { color: "#8a8a8a", width: 1.2 } },
      splitLine: { show: false },
      axisLabel: {
        color: INK,
        fontFamily: SERIF,
        fontSize: 33,
        lineHeight: 20,
        margin: 9,
        formatter: (v: number) => v.toFixed(Y_DECIMALS[i]),
      },
    }));

    const scatter = (data: [number, number][], idx: number) => ({
      type: "scatter",
      xAxisIndex: idx,
      yAxisIndex: idx,
      data,
      symbolSize: 4,
      itemStyle: { color: DOT },
      silent: true,
      z: 2,
    });
    const line = (data: [number, number][], idx: number, smooth: any = false) => ({
      type: "line",
      xAxisIndex: idx,
      yAxisIndex: idx,
      data,
      smooth,
      showSymbol: false,
      symbol: "none",
      lineStyle: { color: "#333", width: 2.4 },
      silent: true,
      z: 3,
    });
    const meanLine = (mean: number, idx: number) =>
      line([[X_RANGES[idx][0], mean], [X_RANGES[idx][1], mean]], idx);

    const graphic: any[] = [
      { type: "line", shape: { x1: 7, y1: 7, x2: 1059, y2: 7 }, style: { stroke: "#777", lineWidth: 2 } },
      { type: "line", shape: { x1: 7, y1: 390, x2: 1059, y2: 390 }, style: { stroke: "#888", lineWidth: 2 } },
      { type: "line", shape: { x1: 7, y1: 7, x2: 7, y2: 769 }, style: { stroke: "#222", lineWidth: 2 } },
      { type: "line", shape: { x1: 536, y1: 7, x2: 536, y2: 769 }, style: { stroke: "#222", lineWidth: 2 } },
    ];
    GRIDS.forEach((g, i) => {
      graphic.push({
        type: "rect",
        shape: { x: g.left, y: g.top, width: g.width, height: g.height },
        style: { fill: "none", stroke: "#8a8a8a", lineWidth: 1.5 },
        silent: true,
      });
      graphic.push({
        type: "text",
        x: X_TITLE_POS[i][0],
        y: X_TITLE_POS[i][1],
        style: {
          text: X_TITLES[i],
          fontFamily: SERIF,
          fontSize: 32,
          lineHeight: 20,
          fill: INK,
          align: "center",
          verticalAlign: "middle",
        },
      });
      const [yx, yy, sx, sy] = Y_TITLE_POS[i];
      graphic.push({
        type: "group",
        x: yx,
        y: yy,
        rotation: Math.PI / 2,
        children: [
          {
            type: "text",
            x: 0,
            y: 0,
            style: { text: "DLF", fontFamily: SERIF, fontSize: 28, lineHeight: 20, fill: INK, align: "left", verticalAlign: "middle" },
          },
          {
            type: "text",
            x: sx,
            y: sy,
            style: { text: Y_SUBS[i], fontFamily: SERIF, fontSize: 18, lineHeight: 14, fill: INK, align: "left", verticalAlign: "middle" },
          },
        ],
      });
    });

    chart.setOption({
      animation: false,
      backgroundColor: "#ffffff",
      grid: GRIDS.map((g) => ({ ...g, containLabel: false })),
      xAxis,
      yAxis,
      graphic,
      series: [
        scatter(P1_POINTS, 0),
        scatter(P1_POINTS_B, 0),
        line(P1_CURVE, 0, 0.3),
        line(P1_UPPER, 0),
        line(P1_LOWER, 0),
        scatter(P2_POINTS, 1),
        scatter(P2_POINTS_B, 1),
        meanLine(P2_MEAN, 1),
        scatter(P3_POINTS, 2),
        scatter(P3_POINTS_B, 2),
        meanLine(P3_MEAN, 2),
        scatter(P4_POINTS, 3),
        scatter(P4_POINTS_B, 3),
        meanLine(P4_MEAN, 3),
      ],
    });
    return () => chart.dispose();
  }, []);
  return (
    <div
      ref={ref}
      style={{ position: "fixed", left: 0, top: 0, width: 1059, height: 769, background: "#fff" }}
    />
  );
}
